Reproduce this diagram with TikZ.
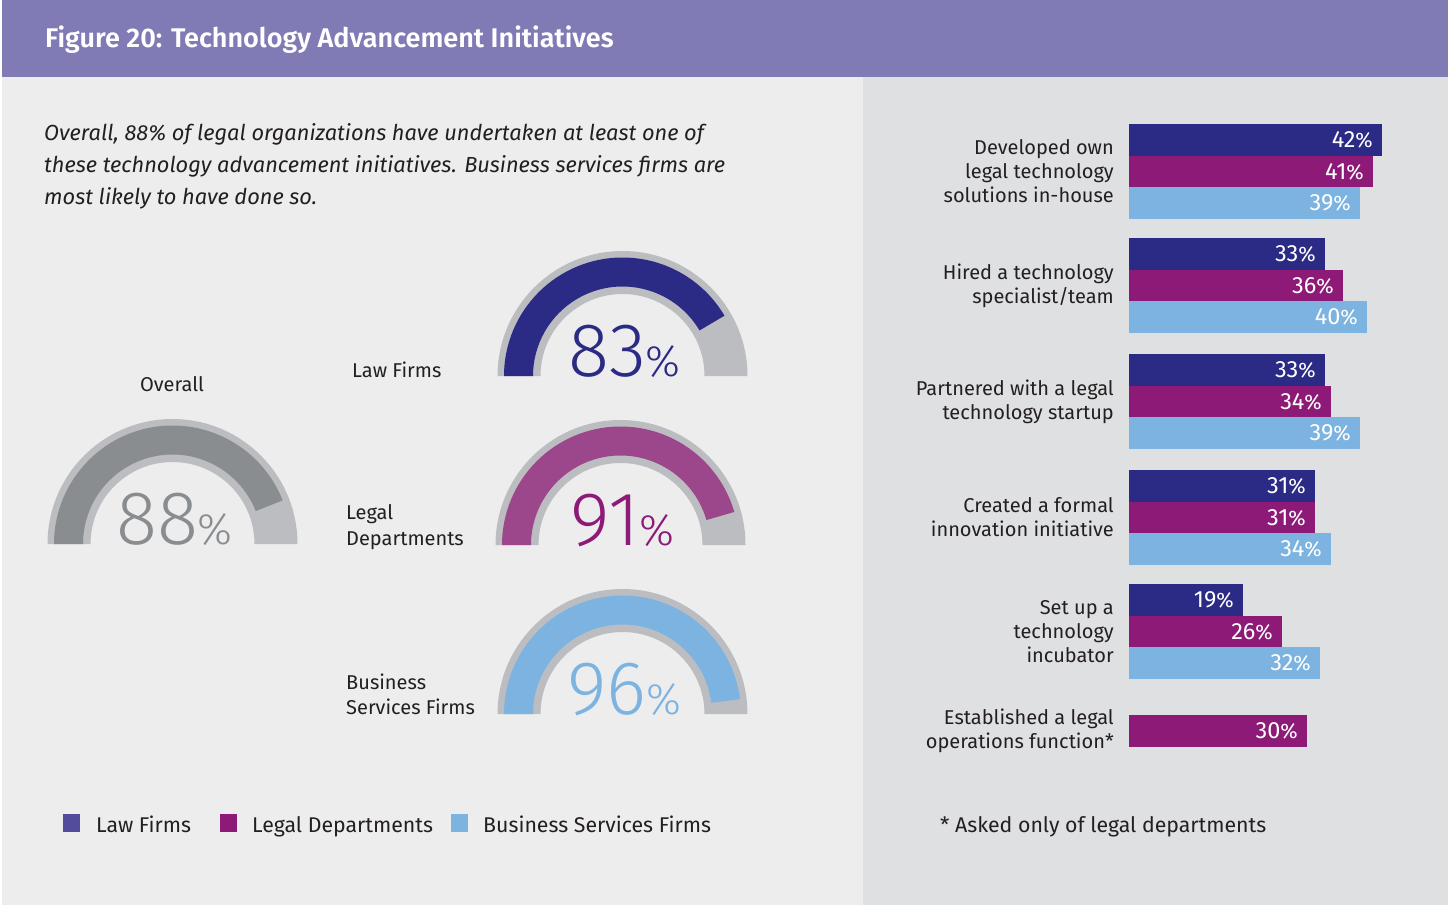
\documentclass[tikz,border=0pt]{standalone}
\usepackage{fontspec}
\setmainfont{Fira Sans}
\IfFontExistsTF{Fira Sans Light}{\newfontfamily\lightfont{Fira Sans Light}}{\newfontfamily\lightfont{Fira Sans}}
\IfFontExistsTF{Fira Sans SemiBold}{\newfontfamily\titlefont{Fira Sans SemiBold}}{\def\titlefont{\bfseries}}
\definecolor{titlebar}{HTML}{807AB5}
\definecolor{leftpanel}{HTML}{EDEDED}
\definecolor{rightpanel}{HTML}{DFE0E2}
\definecolor{inktxt}{HTML}{231F20}
\definecolor{lawnavy}{HTML}{2B2A85}
\definecolor{legalmag}{HTML}{8E1A78}
\definecolor{bizblue}{HTML}{7DB3E0}
\definecolor{gaugetrack}{HTML}{BCBDC0}
\definecolor{overallgrey}{HTML}{8A8D90}
\definecolor{legalband}{HTML}{9C468C}
\definecolor{lawlegend}{HTML}{534C9C}
\tikzset{
  lbl/.style={inner sep=0pt, text=inktxt, font=\fontsize{20}{24}\selectfont},
  biglbl/.style={lbl, font=\fontsize{21.3}{24}\selectfont},
  initlbl/.style={lbl, anchor=east, align=right},
  barval/.style={inner sep=0pt, anchor=base east, text=white, font=\fontsize{23.5}{23.5}\selectfont},
  gaugenum/.style={inner sep=0pt, anchor=base, font=\fontsize{76}{76}\lightfont},
  legendsq/.style={inner sep=0pt, minimum width=17pt, minimum height=18pt},
}
\def\pct{{\fontsize{21}{21}\selectfont\%}}
\def\initbar[#1](#2,#3)#4#5{%
  \fill[#1] (1129,-#2) rectangle (#3,-#2-31.5);
  \node[barval] (#4) at (#3-9,-#2-23.75) {#5\pct};}
\def\gauge(#1,#2)#3#4#5#6{%
  \fill[gaugetrack] (#1-125,-#2) arc[start angle=180, end angle=0, radius=125pt] -- (#1+82,-#2) arc[start angle=0, end angle=180, radius=82pt] -- cycle;
  \fill[#4] (#1-118.5,-#2) arc[start angle=180, end angle={180-1.8*#3}, radius=118.5pt] -- ++({-29*cos(180-1.8*#3)},{-29*sin(180-1.8*#3)}) arc[start angle={180-1.8*#3}, end angle=180, radius=89.5pt] -- cycle;
  \node[gaugenum, text=#5] (#6) at (#1+2,-#2) {#3{\fontsize{44}{44}\selectfont\%}};}

\begin{document}
\begin{tikzpicture}[x=1pt, y=1pt]
			%%%%% PANELS %%%%%
			\useasboundingbox (0,-905) rectangle (1448,0);
			\fill[white] (0,-905) rectangle (1448,0);
			\fill[titlebar] (2,0) rectangle (1448,-77);
			\fill[leftpanel] (2,-77) rectangle (863,-905);
			\fill[rightpanel] (863,-77) rectangle (1448,-905);
			
			\node[inner sep=0pt, anchor=base west, text=white, font=\fontsize{27}{27}\titlefont] (title) at (45,-47) {Figure 20: Technology Advancement Initiatives};
			
			\node[lbl, anchor=base west, align=left, font=\fontsize{21.8}{32}\selectfont\itshape] (intro) at (44,-204) {Overall, 88\% of legal organizations have undertaken at least one of\\these technology advancement initiatives. Business services firms are\\most likely to have done so.};
			
			%%%%% GAUGES %%%%%
			\gauge(172.5,544){88}{overallgrey}{overallgrey}{numOverall}
			\gauge(622.5,376){83}{lawnavy}{lawnavy}{numLaw}
			\gauge(620.5,545){91}{legalband}{legalmag}{numLegal}
			\gauge(622.5,714){96}{bizblue}{bizblue}{numBiz}
			
			\node[lbl, anchor=base] (lblOverall) at (172,-391) {Overall};
			\node[lbl, anchor=base west] (lblLaw) at (352,-377) {Law Firms};
			\node[lbl, anchor=base west, align=left, font=\fontsize{20}{26}\selectfont] (lblLegal) at (346,-545) {Legal\\Departments};
			\node[lbl, anchor=base west, align=left, font=\fontsize{20}{25}\selectfont] (lblBiz) at (346,-714) {Business\\Services Firms};
			
			%%%%% LEGEND %%%%%
			\node[legendsq, fill=lawlegend] (sqLaw) at (71.5,-823) {};
			\node[biglbl, anchor=base west] (legLaw) at (96,-832) {Law Firms};
			\node[legendsq, fill=legalmag] (sqLegal) at (228,-823) {};
			\node[biglbl, anchor=base west] (legLegal) at (252,-832) {Legal Departments};
			\node[legendsq, fill=bizblue] (sqBiz) at (459.5,-823) {};
			\node[biglbl, anchor=base west] (legBiz) at (483,-832) {Business Services Firms};
			
			%%%%% BARS %%%%%
			\initbar[lawnavy](124,1382){devLaw}{42}
			\initbar[legalmag](155.5,1373){devLegal}{41}
			\initbar[bizblue](187,1360){devBiz}{39}
			
			\initbar[lawnavy](238,1325){hireLaw}{33}
			\initbar[legalmag](269.5,1343){hireLegal}{36}
			\initbar[bizblue](301,1367){hireBiz}{40}
			
			\initbar[lawnavy](354,1325){partLaw}{33}
			\initbar[legalmag](385.5,1331){partLegal}{34}
			\initbar[bizblue](417,1360){partBiz}{39}
			
			\initbar[lawnavy](470,1315){innoLaw}{31}
			\initbar[legalmag](501.5,1315){innoLegal}{31}
			\initbar[bizblue](533,1331){innoBiz}{34}
			
			\initbar[lawnavy](584,1243){incuLaw}{19}
			\initbar[legalmag](615.5,1282){incuLegal}{26}
			\initbar[bizblue](647,1320){incuBiz}{32}
			
			\initbar[legalmag](715,1307){opsLegal}{30}
			
			\node[initlbl] (devLbl) at (1114,-171) {Developed own\\legal technology\\solutions in-house};
			\node[initlbl] (hireLbl) at (1114,-286) {Hired a technology\\specialist/team};
			\node[initlbl] (partLbl) at (1114,-402) {Partnered with a legal\\technology startup};
			\node[initlbl] (innoLbl) at (1114,-517) {Created a formal\\innovation initiative};
			\node[initlbl] (incuLbl) at (1114,-632) {Set up a\\technology\\incubator};
			\node[initlbl] (opsLbl) at (1114,-731) {Established a legal\\operations function*};
			
			\node[biglbl, anchor=base west] (footnote) at (940,-832) {* Asked only of legal departments};
			%%%%% END %%%%%
		\end{tikzpicture}
\end{document}
